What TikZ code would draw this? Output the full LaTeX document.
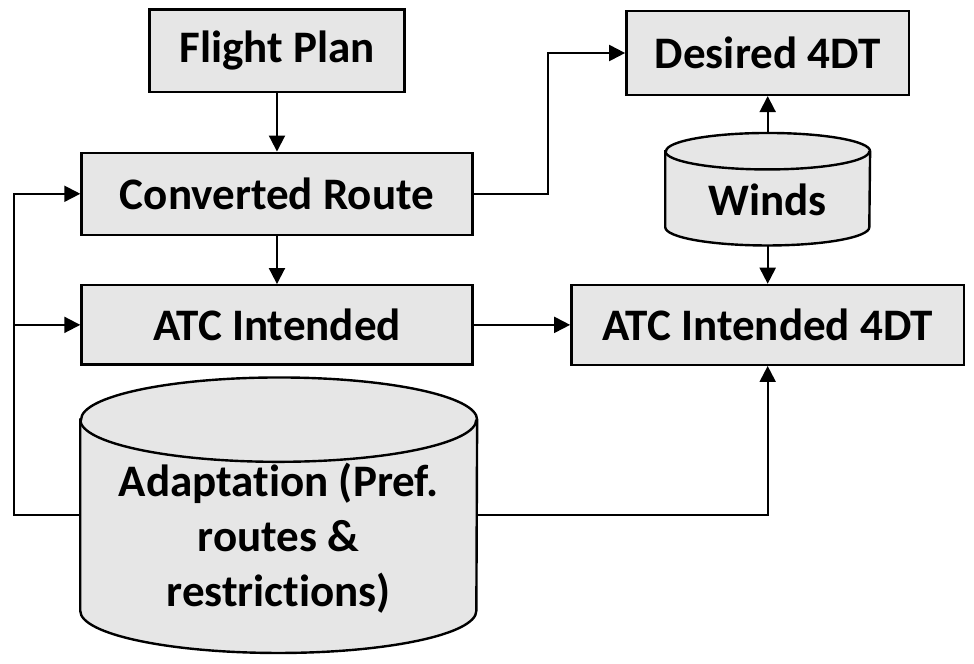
\documentclass[tikz,border=0pt]{standalone}
\usepackage{fontspec}
\setmainfont{Carlito}[Ligatures=NoCommon]
\usepackage{tikz}
\usetikzlibrary{arrows.meta, positioning, calc, backgrounds}
\definecolor{boxgray}{RGB}{230,230,230}
\newcommand{\stagefont}{\fontsize{22.5}{27.5}\selectfont\bfseries}
\tikzset{
	stagebox/.style={draw, line width=1.2pt, fill=boxgray, inner sep=0pt, font=\stagefont},
	dbstore/.style={inner sep=0pt},
	dbline/.style={draw, line width=1.2pt, fill=boxgray},
	dblabel/.style={font=\stagefont, align=center, inner sep=0pt},
	flowline/.style={line width=1pt},
	flowarr/.style={-{Triangle[length=8pt, width=8pt]}, line width=1pt},
}

\begin{document}
\begin{tikzpicture}
				\useasboundingbox (0,0) rectangle (17.09,-11.65);
				% left column
				\node[stagebox, minimum width=4.47cm, minimum height=1.44cm] (plan) at (4.86,-0.89) {Flight Plan};
				\node[stagebox, minimum width=6.86cm, minimum height=1.44cm] (conv) at (4.86,-3.40) {Converted Route};
				\node[stagebox, minimum width=6.86cm, minimum height=1.39cm] (atc) at (4.86,-5.70) {ATC Intended};
				\node[dbstore, minimum width=6.95cm, minimum height=4.82cm, label={[dblabel, yshift=-0.40cm]center:Adaptation (Pref.\\routes \&\\restrictions)}] (adapt) at (4.89,-9.04) {};
				% right column
				\node[stagebox, minimum width=4.96cm, minimum height=1.47cm] (desired) at (13.47,-0.93) {Desired 4DT};
				\node[dbstore, minimum width=3.58cm, minimum height=1.96cm, label={[dblabel, yshift=-0.18cm]center:Winds}] (winds) at (13.47,-3.32) {};
				\node[stagebox, minimum width=6.89cm, minimum height=1.40cm] (atcdt) at (13.47,-5.70) {ATC Intended 4DT};
				% cylinders
				\begin{pgfonlayer}{background}
					\draw[dbline] ([yshift=-0.74cm]adapt.north west) -- ([yshift=0.74cm]adapt.south west)
						arc[start angle=180, end angle=360, x radius=3.475cm, y radius=0.74cm]
						-- ([yshift=-0.74cm]adapt.north east)
						arc[start angle=0, end angle=180, x radius=3.475cm, y radius=0.74cm] -- cycle;
					\draw[line width=1.2pt] ([yshift=-0.74cm]adapt.north west)
						arc[start angle=180, end angle=360, x radius=3.475cm, y radius=0.74cm];
					\draw[dbline] ([yshift=-0.32cm]winds.north west) -- ([yshift=0.32cm]winds.south west)
						arc[start angle=180, end angle=360, x radius=1.79cm, y radius=0.32cm]
						-- ([yshift=-0.32cm]winds.north east)
						arc[start angle=0, end angle=180, x radius=1.79cm, y radius=0.32cm] -- cycle;
					\draw[line width=1.2pt] ([yshift=-0.32cm]winds.north west)
						arc[start angle=180, end angle=360, x radius=1.79cm, y radius=0.32cm];
				\end{pgfonlayer}
				% connectors
				\coordinate (loop) at (0.25,-7);
				\coordinate (upturn) at (9.61,-2);
				\draw[flowarr] (plan) -- (conv);
				\draw[flowarr] (conv) -- (atc);
				\draw[flowarr] (conv.east) -| (upturn) |- (desired.west);
				\draw[flowarr] (adapt.west) -| (loop) |- (conv.west);
				\draw[flowarr] (loop |- atc.west) -- (atc.west);
				\draw[flowarr] (atc.east) -- (atcdt.west);
				\draw[flowarr] (adapt.east) -| (atcdt.south);
				\draw[flowarr] (winds.north) -- (desired.south);
				\draw[flowarr] (winds.south) -- (atcdt.north);
			\end{tikzpicture}
\end{document}
